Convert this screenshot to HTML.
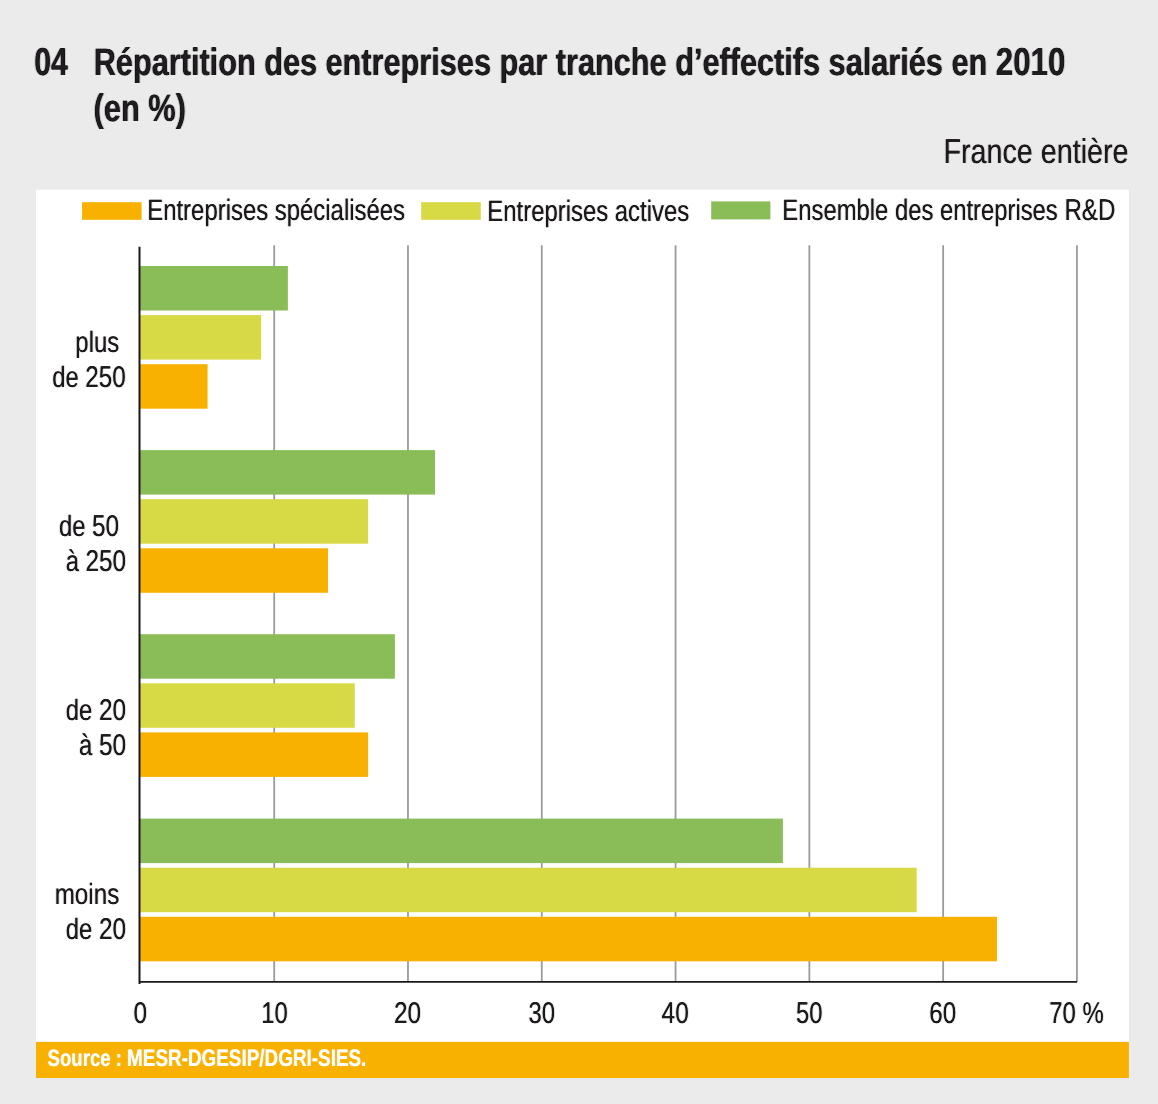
<!DOCTYPE html>
<html lang="fr">
<head>
<meta charset="utf-8">
<title>Répartition des entreprises par tranche d’effectifs salariés en 2010</title>
<style>
html,body{margin:0;padding:0;background:#ebebeb;}
body{width:1158px;height:1104px;overflow:hidden;}
svg{display:block;font-family:"Liberation Sans",sans-serif;text-rendering:geometricPrecision;}
text{white-space:pre;}
</style>
</head>
<body>
<svg width="1158" height="1104" viewBox="0 0 1158 1104">
<defs>
<filter id="thk" x="-20%" y="-25%" width="140%" height="150%" color-interpolation-filters="sRGB">
<feConvolveMatrix order="3 1" kernelMatrix="0.14 1 0.14" divisor="1" bias="0" targetX="1" targetY="0" edgeMode="none" preserveAlpha="false"/>
</filter>
<filter id="thkb" x="-20%" y="-25%" width="140%" height="150%" color-interpolation-filters="sRGB">
<feConvolveMatrix order="3 1" kernelMatrix="0.22 1 0.22" divisor="1" bias="0" targetX="1" targetY="0" edgeMode="none" preserveAlpha="false"/>
</filter>
</defs>
<rect x="0" y="0" width="1158" height="1104" fill="#ebebeb"/>
<!-- title -->
<g id="title">
<text filter="url(#thkb)" transform="translate(34.34 75.00) scale(0.7759 1)" font-size="38.2" font-weight="bold" fill="#161416" text-anchor="start"><tspan font-size="38.9">04</tspan></text>
<text filter="url(#thkb)" transform="translate(93.69 75.00) scale(0.8035 1)" font-size="38.2" font-weight="bold" fill="#161416" text-anchor="start">Répartition des entreprises par tranche d’effectifs salariés en <tspan font-size="38.9">2010</tspan></text>
<text filter="url(#thkb)" transform="translate(93.62 121.00) scale(0.8057 1)" font-size="38.2" font-weight="bold" fill="#161416" text-anchor="start">(en %)</text>
<text filter="url(#thk)" transform="translate(943.38 163.00) scale(0.8351 1)" font-size="34.4" font-weight="normal" fill="#181518" text-anchor="start">France entière</text>
</g>
<!-- chart panel -->
<rect x="36" y="189.7" width="1092.9" height="852.3" fill="#ffffff"/>
<!-- legend -->
<g id="legend">
<rect x="82.1" y="202.2" width="59.5" height="17.6" fill="#f9b100"/>
<text filter="url(#thk)" transform="translate(147.23 220.00) scale(0.8079 1)" font-size="29.6" font-weight="normal" fill="#181518" text-anchor="start">Entreprises spécialisées</text>
<rect x="421.2" y="202.2" width="59.6" height="17.6" fill="#d8da45"/>
<text filter="url(#thk)" transform="translate(487.33 221.00) scale(0.8073 1)" font-size="29.6" font-weight="normal" fill="#181518" text-anchor="start">Entreprises actives</text>
<rect x="711.2" y="201.4" width="59.2" height="18" fill="#8abd57"/>
<text filter="url(#thk)" transform="translate(782.34 220.00) scale(0.8050 1)" font-size="29.6" font-weight="normal" fill="#181518" text-anchor="start">Ensemble des entreprises <tspan font-size="30.0">R&amp;D</tspan></text>
</g>
<!-- grid -->
<g id="grid" stroke="#9b9b9c" stroke-width="1.8" fill="none">
<line x1="274.19" y1="245.2" x2="274.19" y2="981.9"/>
<line x1="407.98" y1="245.2" x2="407.98" y2="981.9"/>
<line x1="541.77" y1="245.2" x2="541.77" y2="981.9"/>
<line x1="675.56" y1="245.2" x2="675.56" y2="981.9"/>
<line x1="809.35" y1="245.2" x2="809.35" y2="981.9"/>
<line x1="943.14" y1="245.2" x2="943.14" y2="981.9"/>
<line x1="1076.93" y1="245.2" x2="1076.93" y2="981.9"/>
</g>
<!-- bars -->
<g id="bars">
<rect x="139.5" y="266.00" width="148.37" height="44.5" fill="#8abd57"/>
<rect x="139.5" y="315.10" width="121.61" height="44.5" fill="#d8da45"/>
<rect x="139.5" y="364.20" width="68.10" height="44.5" fill="#f9b100"/>
<rect x="139.5" y="450.10" width="295.54" height="44.5" fill="#8abd57"/>
<rect x="139.5" y="499.20" width="228.64" height="44.5" fill="#d8da45"/>
<rect x="139.5" y="548.30" width="188.51" height="44.5" fill="#f9b100"/>
<rect x="139.5" y="634.20" width="255.40" height="44.5" fill="#8abd57"/>
<rect x="139.5" y="683.30" width="215.26" height="44.5" fill="#d8da45"/>
<rect x="139.5" y="732.40" width="228.64" height="44.5" fill="#f9b100"/>
<rect x="139.5" y="818.60" width="643.39" height="44.5" fill="#8abd57"/>
<rect x="139.5" y="867.70" width="777.18" height="44.5" fill="#d8da45"/>
<rect x="139.5" y="916.80" width="857.46" height="44.5" fill="#f9b100"/>
</g>
<!-- axes -->
<g id="axes" stroke="#1b181b" stroke-width="2" fill="none">
<line x1="139.5" y1="246.8" x2="139.5" y2="983.9"/>
<line x1="139.2" y1="981.9" x2="1077" y2="981.9" stroke-width="1.8"/>
</g>
<!-- y labels -->
<g id="ylabels">
<text filter="url(#thk)" transform="translate(75.36 352.00) scale(0.8137 1)" font-size="29.4" font-weight="normal" fill="#181518" text-anchor="start">plus</text>
<text filter="url(#thk)" transform="translate(52.31 387.00) scale(0.8090 1)" font-size="29.4" font-weight="normal" fill="#181518" text-anchor="start">de <tspan font-size="30.0">250</tspan></text>
<text filter="url(#thk)" transform="translate(58.90 536.00) scale(0.8116 1)" font-size="29.4" font-weight="normal" fill="#181518" text-anchor="start">de <tspan font-size="30.0">50</tspan></text>
<text filter="url(#thk)" transform="translate(65.67 571.00) scale(0.8111 1)" font-size="29.4" font-weight="normal" fill="#181518" text-anchor="start">à <tspan font-size="30.0">250</tspan></text>
<text filter="url(#thk)" transform="translate(65.80 720.00) scale(0.8130 1)" font-size="29.4" font-weight="normal" fill="#181518" text-anchor="start">de <tspan font-size="30.0">20</tspan></text>
<text filter="url(#thk)" transform="translate(78.96 755.00) scale(0.8151 1)" font-size="29.4" font-weight="normal" fill="#181518" text-anchor="start">à <tspan font-size="30.0">50</tspan></text>
<text filter="url(#thk)" transform="translate(54.70 904.00) scale(0.8230 1)" font-size="29.4" font-weight="normal" fill="#181518" text-anchor="start">moins</text>
<text filter="url(#thk)" transform="translate(65.80 939.00) scale(0.8130 1)" font-size="29.4" font-weight="normal" fill="#181518" text-anchor="start">de <tspan font-size="30.0">20</tspan></text>
</g>
<!-- x labels -->
<g id="xlabels">
<text filter="url(#thk)" transform="translate(133.45 1023.00) scale(0.8128 1)" font-size="30.0" font-weight="normal" fill="#181518" text-anchor="start">0</text>
<text filter="url(#thk)" transform="translate(261.20 1023.00) scale(0.7944 1)" font-size="30.0" font-weight="normal" fill="#181518" text-anchor="start">10</text>
<text filter="url(#thk)" transform="translate(394.03 1023.00) scale(0.8120 1)" font-size="30.0" font-weight="normal" fill="#181518" text-anchor="start">20</text>
<text filter="url(#thk)" transform="translate(528.42 1023.00) scale(0.7968 1)" font-size="30.0" font-weight="normal" fill="#181518" text-anchor="start">30</text>
<text filter="url(#thk)" transform="translate(661.61 1023.00) scale(0.8127 1)" font-size="30.0" font-weight="normal" fill="#181518" text-anchor="start">40</text>
<text filter="url(#thk)" transform="translate(796.02 1023.00) scale(0.7935 1)" font-size="30.0" font-weight="normal" fill="#181518" text-anchor="start">50</text>
<text filter="url(#thk)" transform="translate(929.24 1023.00) scale(0.8054 1)" font-size="30.0" font-weight="normal" fill="#181518" text-anchor="start">60</text>
<text filter="url(#thk)" transform="translate(1049.26 1023.00) scale(0.7959 1)" font-size="30.0" font-weight="normal" fill="#181518" text-anchor="start">70 %</text>
</g>
<!-- source -->
<rect x="36" y="1041.9" width="1092.9" height="36.1" fill="#f9b100"/>
<text filter="url(#thk)" transform="translate(47.62 1066.00) scale(0.7904 1)" font-size="23.5" font-weight="bold" fill="#ffffff" text-anchor="start">Source : <tspan font-size="23.9">MESR-DGESIP/DGRI-SIES.</tspan></text>
</svg>
</body>
</html>
